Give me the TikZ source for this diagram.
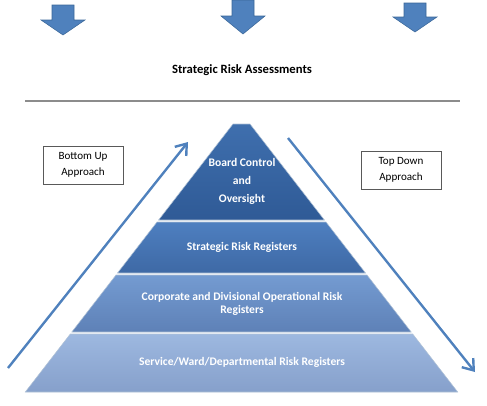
\documentclass[tikz,border=0pt]{standalone}
\usepackage{fontspec}
\setmainfont{Carlito}
\usetikzlibrary{arrows.meta, positioning, calc}
\definecolor{arrblue}{HTML}{4F81BD}
\definecolor{arrline}{HTML}{3A6798}

\begin{document}
\begin{tikzpicture}[
    x=0.75pt, y=-0.75pt,
    tier/.style={draw=white!60!arrline, line width=0.4pt},
    lbl/.style={text=white, align=center, font=\fontsize{8.7}{9.75}\selectfont\bfseries},
    side/.style={draw=black!65, line width=0.5pt, minimum width=60pt, minimum height=28.5pt, align=center, font=\fontsize{8.3}{12}\selectfont},
    dirarr/.style={-{Straight Barb[length=7.5pt, width=11pt]}, draw=arrblue, line width=1.8pt},
    blockarr/.style={fill=arrblue, draw=arrline, line width=0.4pt}
]
\useasboundingbox (0,0) rectangle (487,405);

% top arrows
\foreach \cx/\ty/\hy/\by in {63/5/20/35, 243/0/16/34, 415/3/17/32}
  \draw[blockarr] (\cx-11,\ty) -- (\cx+11,\ty) -- (\cx+11,\hy) -- (\cx+22,\hy)
    -- (\cx,\by) -- (\cx-22,\hy) -- (\cx-11,\hy) -- cycle;

\node[font=\fontsize{9.5}{11}\selectfont\bfseries] (title) at (242,70) {Strategic Risk Assessments};
\coordinate (rulel) at (25,101);
\coordinate (ruler) at (460,101);
\draw[black!45, line width=0.8pt] (rulel) -- (ruler);

% pyramid
\shade[tier, top color={rgb,255:red,63;green,111;blue,174}, bottom color={rgb,255:red,47;green,90;blue,150}]
  (233,124) -- (250,124) -- (324.4,220) -- (158.6,220) -- cycle;
\shade[tier, top color={rgb,255:red,78;green,127;blue,192}, bottom color={rgb,255:red,62;green,105;blue,165}]
  (157,222) -- (326,222) -- (365.5,273) -- (117.5,273) -- cycle;
\shade[tier, top color={rgb,255:red,116;green,155;blue,209}, bottom color={rgb,255:red,94;green,129;blue,183}]
  (116,275) -- (367,275) -- (411.2,332) -- (71.8,332) -- cycle;
\shade[tier, top color={rgb,255:red,157;green,184;blue,224}, bottom color={rgb,255:red,134;green,160;blue,203}]
  (70.3,334) -- (412.7,334) -- (457.7,392) -- (25.3,392) -- cycle;

\node[lbl, font=\fontsize{8.7}{13.5}\selectfont\bfseries] (board) at (242,181) {Board Control\\and\\Oversight};
\node[lbl] (strategic) at (242,247) {Strategic Risk Registers};
\node[lbl] (corporate) at (242,303.5) {Corporate and Divisional Operational Risk\\Registers};
\node[lbl] (service) at (242,362) {Service/Ward/Departmental Risk Registers};

% side boxes
\node[side] (bottomup) at (83,165) {Bottom Up\\Approach};
\node[side] (topdown) at (401,170) {Top Down\\Approach};

\coordinate (upstart) at (8,368);
\coordinate (upend) at (188,142);
\coordinate (downstart) at (288,138);
\coordinate (downend) at (475,372);
\draw[dirarr] (upstart) -- (upend);
\draw[dirarr] (downstart) -- (downend);
\end{tikzpicture}
\end{document}
